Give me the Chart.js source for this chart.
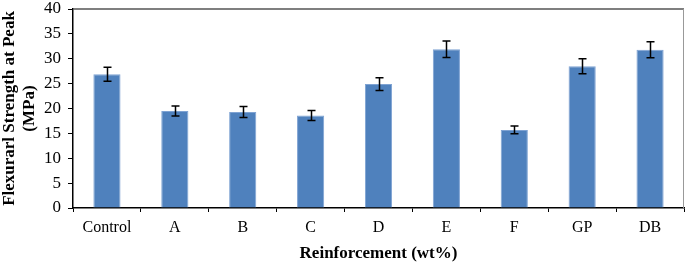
<!DOCTYPE html>
<html>
<head>
<meta charset="utf-8">
<script src="https://cdn.jsdelivr.net/npm/chart.js@4"></script>
<style>
html,body{margin:0;padding:0;background:#fff;}
#wrap{width:685px;height:264px;position:relative;}
</style>
</head>
<body>
<div id="wrap"><canvas id="c" width="685" height="264"></canvas></div>
<script>
const categories = ['Control','A','B','C','D','E','F','GP','DB'];
const strength = [26.9, 19.5, 19.3, 18.6, 24.9, 31.9, 15.7, 28.5, 31.8];
const errors = [1.4, 1.0, 1.1, 1.0, 1.3, 1.65, 0.8, 1.5, 1.6];
const yTicks = [0,5,10,15,20,25,30,35,40];

const serif = '"Liberation Serif","Times New Roman",serif';

const errorBars = {
  id:'errorBars',
  afterDatasetsDraw(chart){
    const ctx = chart.ctx;
    const meta = chart.getDatasetMeta(0);
    const y = chart.scales.y;
    ctx.save();
    ctx.strokeStyle = '#000';
    ctx.lineWidth = 1.5;
    meta.data.forEach((bar,i)=>{
      const x = Math.round(bar.x)+0.5;
      const yt = y.getPixelForValue(strength[i]+errors[i]);
      const yb = y.getPixelForValue(strength[i]-errors[i]);
      ctx.beginPath();
      ctx.moveTo(x,yt); ctx.lineTo(x,yb);
      ctx.moveTo(x-4,yt); ctx.lineTo(x+4,yt);
      ctx.moveTo(x-4,yb); ctx.lineTo(x+4,yb);
      ctx.stroke();
    });
    const a = chart.chartArea;
    ctx.strokeStyle = '#555';
    ctx.lineWidth = 1.5;
    ctx.beginPath();
    ctx.moveTo(a.left, a.top); ctx.lineTo(a.right, a.top);
    ctx.stroke();
    ctx.strokeStyle = '#999';
    ctx.lineWidth = 1;
    ctx.beginPath();
    ctx.moveTo(a.right-0.5, a.top); ctx.lineTo(a.right-0.5, a.bottom);
    ctx.stroke();
    ctx.restore();
  }
};

new Chart(document.getElementById('c'), {
  type:'bar',
  data:{
    labels:categories,
    datasets:[{
      data:strength,
      backgroundColor:'#4F81BD',
      borderColor:'#7FA3D3',
      borderWidth:1,
      barPercentage:0.4,
      categoryPercentage:1.0
    }]
  },
  options:{
    responsive:false,
    animation:false,
    devicePixelRatio:1,
    layout:{padding:{top:9,right:1,left:0,bottom:0}},
    plugins:{legend:{display:false},tooltip:{enabled:false}},
    scales:{
      x:{
        grid:{display:true,drawOnChartArea:false,drawTicks:true,tickLength:4,color:'#000',offset:true},
        border:{color:'#000',width:1.5},
        ticks:{color:'#000',font:{family:serif,size:16},padding:6,maxRotation:0},
        title:{display:true,text:'Reinforcement (wt%)',color:'#000',font:{family:serif,size:17,weight:'bold'},padding:{top:1,bottom:0}},
        afterFit(s){s.height=56; s.paddingLeft=0; s.paddingRight=0;}
      },
      y:{
        min:0,max:40,
        afterBuildTicks(s){s.ticks = yTicks.map(v=>({value:v}));},
        grid:{display:true,drawOnChartArea:false,drawTicks:true,tickLength:5,color:'#000'},
        border:{color:'#000',width:1.5},
        ticks:{color:'#000',font:{family:serif,size:17},padding:7},
        title:{display:true,text:['Flexurarl Strength at Peak','(MPa)'],color:'#000',font:{family:serif,size:17,weight:'bold',lineHeight:1.15},padding:{top:0,bottom:2}},
        afterFit(s){s.width=73; s.paddingTop=0; s.paddingBottom=0;}
      }
    }
  },
  plugins:[errorBars]
});
</script>
</body>
</html>
